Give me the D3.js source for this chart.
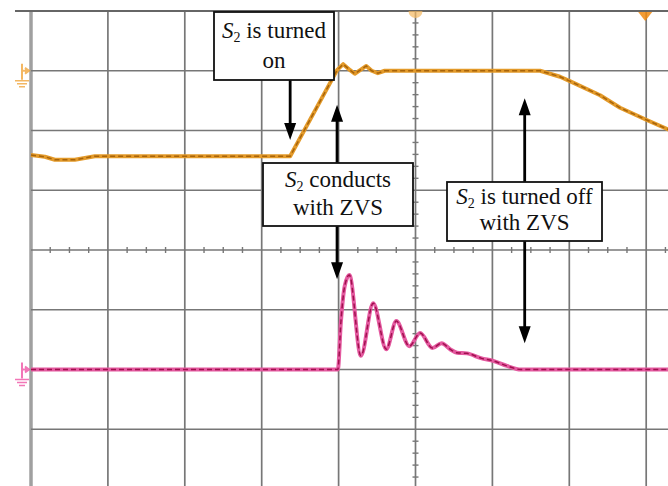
<!DOCTYPE html>
<meta charset="utf-8">
<script src="https://d3js.org/d3.v7.min.js"></script>
<style>
  body { margin: 0; background: #fff; }
  svg text { font-family: "Liberation Serif", "DejaVu Serif", serif; }
</style>
<div id="body"></div>
<script>
// Trace data, in screen divisions (time: 0 = left edge, volts: 0 = centre line)
var ch1Time = [0, 0.18, 0.31, 0.57, 0.70, 0.83, 1.16, 3.37, 3.98, 4.06, 4.15, 4.21, 4.28, 4.36, 4.43, 4.51, 4.60, 4.80, 6.62, 6.88, 7.00, 7.40, 7.66, 8.00, 8.30];
var ch1Volt = [1.59, 1.56, 1.51, 1.51, 1.54, 1.57, 1.57, 1.57, 3.01, 3.11, 3.01, 2.95, 3.01, 3.08, 3.00, 2.96, 3.00, 3.00, 3.00, 2.90, 2.83, 2.59, 2.38, 2.18, 2.01];

var ch2Time = [0, 3.99, 4.03, 4.08, 4.14, 4.29, 4.45, 4.62, 4.75, 4.92, 5.06, 5.22, 5.34, 5.45, 5.54, 5.67, 5.85, 6.02, 6.19, 6.37, 8.30];
var ch2Volt = [-2.0, -2.0, -1.20, -0.60, -0.42, -1.77, -0.89, -1.66, -1.19, -1.61, -1.39, -1.64, -1.56, -1.66, -1.72, -1.73, -1.81, -1.86, -1.94, -2.0, -2.0];

// Graticule divisions
var timeDivs = d3.range(0, 11);
var voltDivs = d3.range(-4, 5);

// Annotations (boxes in px, arrows in divisions)
var labels = [
  {x: 214, y: 12, w: 120, h: 68, lines: ["is turned", "on"]},
  {x: 263, y: 163, w: 150, h: 63, lines: ["conducts", "with ZVS"]},
  {x: 447, y: 182, w: 155, h: 59, lines: ["is turned off", "with ZVS"]}
];
var arrows = [
  {t: 3.37, from: 2.85, to: 1.84},
  {t: 3.98, from: 1.46, to: 2.43},
  {t: 3.98, from: 0.40, to: -0.49},
  {t: 6.42, from: 1.14, to: 2.54},
  {t: 6.42, from: 0.15, to: -1.56}
];

var width = 668, height = 486;
var serif = "Liberation Serif";

var svg = d3.select("#body").append("svg")
    .attr("width", width)
    .attr("height", height);

var x = d3.scaleLinear().domain([0, 10]).range([31, 800]);
var y = d3.scaleLinear().domain([-4, 4]).range([489, 11]);

svg.append("defs").append("clipPath").attr("id", "screen")
  .append("rect").attr("x", 0).attr("y", 0).attr("width", width).attr("height", height);

var g = svg.append("g").attr("clip-path", "url(#screen)");

// Grid
g.selectAll(".vline")
  .data(timeDivs)
  .enter().append("line")
    .attr("x1", function(d) { return x(d); })
    .attr("x2", function(d) { return x(d); })
    .attr("y1", y(4)).attr("y2", height)
    .attr("stroke", function(d) { return d === 0 ? "#a0a0a0" : "#777"; })
    .attr("stroke-width", function(d) { return d === 0 ? 3.5 : 1.7; });

g.selectAll(".hline")
  .data(voltDivs)
  .enter().append("line")
    .attr("x1", function(d) { return d === 4 ? 15 : x(0); })
    .attr("x2", width)
    .attr("y1", function(d) { return y(d); })
    .attr("y2", function(d) { return y(d); })
    .attr("stroke", function(d) { return d === 4 ? "#666" : "#777"; })
    .attr("stroke-width", function(d) { return d === 4 ? 2.2 : 1.7; });

// Minor ticks on the centre lines
var hTicks = d3.range(0, 40).filter(function(i) { return i % 4 !== 0; }).map(function(i) { return i / 4; });
var vTicks = d3.range(-20, 20).filter(function(i) { return i % 5 !== 0; }).map(function(i) { return i / 5; });

g.selectAll(".htick")
  .data(hTicks)
  .enter().append("line")
    .attr("x1", function(d) { return x(d); })
    .attr("x2", function(d) { return x(d); })
    .attr("y1", y(0) - 3).attr("y2", y(0) + 3)
    .attr("stroke", "#777").attr("stroke-width", 1.4);

g.selectAll(".vtick")
  .data(vTicks)
  .enter().append("line")
    .attr("x1", x(5) - 3).attr("x2", x(5) + 3)
    .attr("y1", function(d) { return y(d); })
    .attr("y2", function(d) { return y(d); })
    .attr("stroke", "#777").attr("stroke-width", 1.4);

// Traces: ch1 straight segments, ch2 smoothed ringing
var line1 = d3.line()
  .x(function(d) { return x(d[0]); })
  .y(function(d) { return y(d[1]); });
var line2 = d3.line()
  .curve(d3.curveMonotoneX)
  .x(function(d) { return x(d[0]); })
  .y(function(d) { return y(d[1]); });

var ch1 = d3.zip(ch1Time, ch1Volt);
var ch2 = d3.zip(ch2Time, ch2Volt);

g.append("path").datum(ch1)
  .attr("d", line1).attr("fill", "none")
  .attr("stroke", "#e39a2a").attr("stroke-width", 4).attr("stroke-linejoin", "round");
g.append("path").datum(ch1)
  .attr("d", line1).attr("fill", "none")
  .attr("stroke", "#a8640a").attr("stroke-width", 1.5)
  .attr("stroke-dasharray", "5,3");

g.append("path").datum(ch2)
  .attr("d", line2).attr("fill", "none")
  .attr("stroke", "#e45aa0").attr("stroke-width", 4).attr("stroke-linejoin", "round");
g.append("path").datum(ch2)
  .attr("d", line2).attr("fill", "none")
  .attr("stroke", "#a0104e").attr("stroke-width", 1.5)
  .attr("stroke-dasharray", "5,3");

// Channel markers
function chanMarker(yy, col) {
  var m = svg.append("g").attr("transform", "translate(0," + yy + ")")
    .attr("stroke", col).attr("fill", "none").attr("stroke-width", 2).attr("opacity", 0.75);
  m.append("path").attr("d", "M22,-7L22,9M22,0L29,0");
  m.append("path").attr("d", "M25,-3L29,0L25,3").attr("fill", col);
  m.append("path").attr("d", "M15,10L29,10M17,13L27,13M19,16L25,16").attr("stroke-width", 1.4);
}
chanMarker(y(3), "#f0a030");
chanMarker(y(-2), "#ee4aa0");

// Trigger markers on the top edge
svg.append("path")
  .attr("d", "M" + (x(5) - 7) + "," + y(4) + "A7,7 0 0,0 " + (x(5) + 7) + "," + y(4) + "Z")
  .attr("fill", "#f3b860").attr("opacity", 0.7);
svg.append("path")
  .attr("d", "M" + (x(8) - 8) + "," + (y(4) + 1) + "L" + (x(8) + 6) + "," + (y(4) + 1) + "L" + (x(8) - 1) + "," + (y(4) + 10) + "Z")
  .attr("fill", "#f08a10").attr("opacity", 0.85);

// Arrows: shaft plus a filled head
var arr = svg.selectAll(".arrow")
  .data(arrows)
  .enter().append("g");

arr.append("line")
  .attr("x1", function(d) { return x(d.t); })
  .attr("x2", function(d) { return x(d.t); })
  .attr("y1", function(d) { return y(d.from); })
  .attr("y2", function(d) { return y(d.to) + (d.to > d.from ? 10 : -10); })
  .attr("stroke", "#000").attr("stroke-width", 2.8);

arr.append("path")
  .attr("d", function(d) {
    var tx = x(d.t), ty = y(d.to), dir = d.to > d.from ? 1 : -1;
    return "M" + tx + "," + ty + "L" + (tx - 6) + "," + (ty + dir * 17) + "L" + (tx + 6) + "," + (ty + dir * 17) + "Z";
  })
  .attr("fill", "#000");

// Label boxes
var box = svg.selectAll(".label")
  .data(labels)
  .enter().append("g")
    .attr("transform", function(d) { return "translate(" + d.x + "," + d.y + ")"; });

box.append("rect")
  .attr("width", function(d) { return d.w; })
  .attr("height", function(d) { return d.h; })
  .attr("fill", "#fff")
  .attr("stroke", "#111").attr("stroke-width", 1.8);

var t1 = box.append("text")
  .attr("x", function(d) { return d.w / 2; })
  .attr("y", function(d) { return d.h * 0.38; })
  .attr("text-anchor", "middle")
  .style("font-family", serif)
  .style("font-size", "23px")
  .attr("fill", "#111");
t1.append("tspan").style("font-style", "italic").text("S");
t1.append("tspan").style("font-size", "14px").attr("dy", 4).text("2");
t1.append("tspan").attr("dy", -4).text(function(d) { return " " + d.lines[0]; });

box.append("text")
  .attr("x", function(d) { return d.w / 2; })
  .attr("y", function(d) { return d.h * 0.82; })
  .attr("text-anchor", "middle")
  .style("font-family", serif)
  .style("font-size", "23px")
  .attr("fill", "#111")
  .text(function(d) { return d.lines[1]; });
</script>
